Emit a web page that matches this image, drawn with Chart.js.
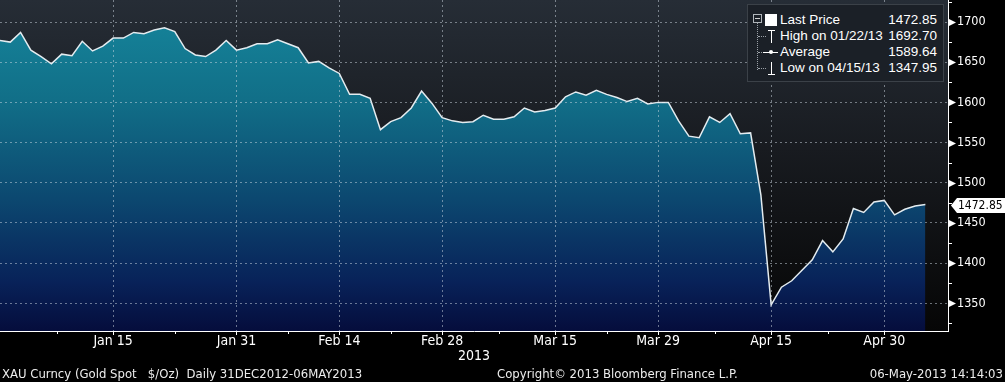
<!DOCTYPE html>
<html>
<head>
<meta charset="utf-8">
<script src="https://cdn.jsdelivr.net/npm/chart.js@4/dist/chart.umd.min.js"></script>
<style>
html,body{margin:0;padding:0;background:#000;width:1005px;height:382px;overflow:hidden;}
#wrap{position:relative;width:1005px;height:382px;}
#c{position:absolute;left:0;top:0;}
.foot{position:absolute;top:366px;font:13px "DejaVu Sans Condensed",sans-serif;color:#ececec;white-space:pre;line-height:16px;}
#legend{position:absolute;left:747px;top:4px;width:197px;height:78px;box-sizing:border-box;border:1px solid #3b4148;background:#1b2027;font:13.5px "Liberation Sans",Arial,sans-serif;color:#fff;}
#legend .row{position:absolute;left:32px;right:6px;height:16px;line-height:16px;white-space:pre;}
#legend .row .v{position:absolute;right:0;top:0;}
.ic{position:absolute;}
</style>
</head>
<body>
<div id="wrap">
<canvas id="c" width="1005" height="382"></canvas>
<div id="legend"></div>
<div class="foot" id="f1" style="left:2px"></div>
<div class="foot" id="f2" style="left:497px"></div>
<div class="foot" id="f3" style="right:2px"></div>
</div>
<script>
// ---- data ----
const prices = [1677,1675,1687,1665,1657,1648,1660,1658,1676,1664,
1670,1680,1680,1687,1685.5,1690,1692.7,1688,1667,1659,
1657,1665,1677,1665,1668,1673,1673,1678,1673,1668,
1649,1651,1643,1636,1610,1610,1605,1566,1576,1581,
1593,1614,1599,1581,1577,1575,1576,1584,1579,1579,
1582,1593,1588,1590,1593,1607,1613,1609,1615,1610,
1606,1601,1605,1598,1600,1600,1577,1558,1556,1582,
1575,1586,1561,1562,1485,1348,1370,1378,1391,1404,
1428,1414,1430,1468,1463,1476,1478,1460,1467,1471,1472.85];
const xTickIndex = [11,23,33,43,54,64,75,86];
const xTickText = ['Jan 15','Jan 31','Feb 14','Feb 28','Mar 15','Mar 29','Apr 15','Apr 30'];
const yTicks = [1350,1400,1450,1500,1550,1600,1650,1700];
const yMinorTicks = [1325,1375,1425,1475,1525,1575,1625,1675,1725];
const yearLabel = '2013';
const legendLabels = ['Last Price','High on 01/22/13','Average','Low on 04/15/13'];
const legendValues = ['1472.85','1692.70','1589.64','1347.95'];
const footLeft = 'XAU Curncy (Gold Spot   $/Oz)  Daily 31DEC2012-06MAY2013';
const footMid = 'Copyright\u00A9 2013 Bloomberg Finance L.P.';
const footRight = '06-May-2013 14:14:03';

// ---- footer & legend (text) ----
document.getElementById('f1').textContent = footLeft;
document.getElementById('f2').textContent = footMid;
document.getElementById('f3').textContent = footRight;

const lg = document.getElementById('legend');
const rowTops = [7, 23, 39, 55];
let html = '';
legendLabels.forEach((t,i)=>{
  html += '<div class="row" style="top:'+rowTops[i]+'px">'+t+'<span class="v">'+legendValues[i]+'</span></div>';
});
html += '<div class="ic" style="left:9px;top:17px;width:0;height:48px;border-left:1px dotted #9aa0a6"></div>';
[31,47,63].forEach(t=>{ html += '<div class="ic" style="left:10px;top:'+t+'px;width:8px;height:0;border-top:1px dotted #9aa0a6"></div>'; });
html += '<div class="ic" style="left:5px;top:9px;width:7px;height:7px;border:1px solid #b0b5ba"></div>';
html += '<div class="ic" style="left:7px;top:13px;width:5px;height:1px;background:#d0d0d0"></div>';
html += '<div class="ic" style="left:17px;top:9px;width:12px;height:12px;background:#fff"></div>';
html += '<div class="ic" style="left:23px;top:25px;width:1px;height:13px;background:#fff"></div>';
html += '<div class="ic" style="left:20px;top:25px;width:7px;height:1px;background:#fff"></div>';
html += '<div class="ic" style="left:15px;top:47px;width:15px;height:1px;background:#fff"></div>';
html += '<div class="ic" style="left:21px;top:45px;width:4px;height:4px;border-radius:3px;background:#fff"></div>';
html += '<div class="ic" style="left:23px;top:57px;width:1px;height:13px;background:#fff"></div>';
html += '<div class="ic" style="left:20px;top:69px;width:7px;height:1px;background:#fff"></div>';
lg.innerHTML = html;

// ---- chart ----
const FONT = '"DejaVu Sans Condensed","DejaVu Sans",sans-serif';
const GRID = 'rgba(205,215,225,0.5)';
const deco = {
  id:'deco',
  beforeDraw(chart){
    const {ctx, chartArea:a} = chart;
    ctx.save();
    ctx.fillStyle = '#000';
    ctx.fillRect(0,0,chart.width,chart.height);
    const g = ctx.createLinearGradient(0,a.top,0,a.bottom);
    g.addColorStop(0,'#262d36');
    g.addColorStop(0.45,'#181b20');
    g.addColorStop(1,'#060606');
    ctx.fillStyle = g;
    ctx.fillRect(a.left,a.top,a.right-a.left,a.bottom-a.top);
    ctx.restore();
  },
  afterDraw(chart){
    const {ctx, chartArea:a, scales:{x,y}} = chart;
    ctx.save();
    ctx.fillStyle = '#fff';
    ctx.strokeStyle = '#fff';
    ctx.lineWidth = 1;
    yTicks.forEach(v=>{
      const py = Math.round(y.getPixelForValue(v));
      ctx.beginPath();
      ctx.moveTo(a.right, py-3.5);
      ctx.lineTo(a.right+8, py+0.5);
      ctx.lineTo(a.right, py+4.5);
      ctx.closePath();
      ctx.fill();
    });
    yMinorTicks.forEach(v=>{
      const py = Math.round(y.getPixelForValue(v))+0.5;
      ctx.beginPath();
      ctx.moveTo(a.right, py);
      ctx.lineTo(a.right+4, py);
      ctx.stroke();
    });
    const xs = [0].concat(xTickIndex);
    for (let i=0;i<xs.length;i++){
      if (i>0){
        const px = Math.round(x.getPixelForValue(xs[i]))+0.5;
        ctx.beginPath(); ctx.moveTo(px,a.bottom); ctx.lineTo(px,a.bottom+4); ctx.stroke();
      }
      const nxt = i+1<xs.length ? xs[i+1] : 98.4;
      const mid = (xs[i]+nxt)/2;
      if (mid < 92.2){
        const pm = Math.round(x.getPixelForValue(mid))+0.5;
        ctx.beginPath(); ctx.moveTo(pm,a.bottom); ctx.lineTo(pm,a.bottom+3); ctx.stroke();
      }
    }
    const last = prices[prices.length-1];
    const py = Math.round(y.getPixelForValue(last))+0.5;
    ctx.beginPath();
    ctx.moveTo(a.right+3, py);
    ctx.lineTo(a.right+9, py-7.5);
    ctx.lineTo(chart.width, py-7.5);
    ctx.lineTo(chart.width, py+7.5);
    ctx.lineTo(a.right+9, py+7.5);
    ctx.closePath();
    ctx.fill();
    ctx.fillStyle = '#000';
    ctx.font = '12px '+FONT;
    ctx.textBaseline = 'middle';
    ctx.textAlign = 'left';
    ctx.fillText(last.toFixed(2), a.right+10, py+0.5);
    ctx.restore();
  }
};

const ctx = document.getElementById('c').getContext('2d');
new Chart(ctx, {
  type:'line',
  data:{
    datasets:[{
      data: prices.map((v,i)=>({x:i,y:v})),
      borderColor:'#e4ecf0',
      borderWidth:1.5,
      pointRadius:0,
      tension:0,
      fill:'start',
      backgroundColor:(c)=>{
        const a = c.chart.chartArea;
        if(!a) return 'rgba(0,0,0,0)';
        const g = c.chart.ctx.createLinearGradient(0,a.top,0,a.bottom);
        g.addColorStop(0,'#16879d');
        g.addColorStop(0.3,'#116f88');
        g.addColorStop(0.6,'#0c4870');
        g.addColorStop(0.85,'#082259');
        g.addColorStop(1,'#050d3c');
        return g;
      }
    }]
  },
  options:{
    responsive:false,
    animation:false,
    layout:{padding:0},
    plugins:{legend:{display:false},tooltip:{enabled:false}},
    scales:{
      x:{
        type:'linear',
        min:0, max:92.2,
        afterBuildTicks:(s)=>{ s.ticks = xTickIndex.map(v=>({value:v})); },
        afterFit:(s)=>{ s.height = 51; s.paddingLeft = 0; s.paddingRight = 0; },
        ticks:{
          color:'#fff',
          font:{family:FONT,size:14},
          padding:2,
          maxRotation:0,
          autoSkip:false,
          callback:(v)=>{ const k = xTickIndex.indexOf(v); return k>=0 ? xTickText[k] : ''; }
        },
        grid:{color:GRID, lineWidth:1, drawTicks:false, z:1},
        border:{display:true,color:'#fff',width:1,dash:[2,3],z:2},
        title:{display:true,text:yearLabel,color:'#fff',font:{family:FONT,size:14},padding:{top:0,bottom:17}}
      },
      y:{
        position:'right',
        min:1315.5, max:1727.4,
        afterBuildTicks:(s)=>{ s.ticks = yTicks.map(v=>({value:v})); },
        afterFit:(s)=>{ s.width = 57; s.paddingTop = 0; s.paddingBottom = 0; },
        ticks:{
          color:'#fff',
          font:{family:FONT,size:12.5},
          padding:9,
          autoSkip:false,
          callback:(v)=> String(v)
        },
        grid:{color:GRID, lineWidth:1, drawTicks:false, z:1},
        border:{display:true,color:'#fff',width:1,dash:[2,3],z:2}
      }
    }
  },
  plugins:[deco]
});
</script>
</body>
</html>
